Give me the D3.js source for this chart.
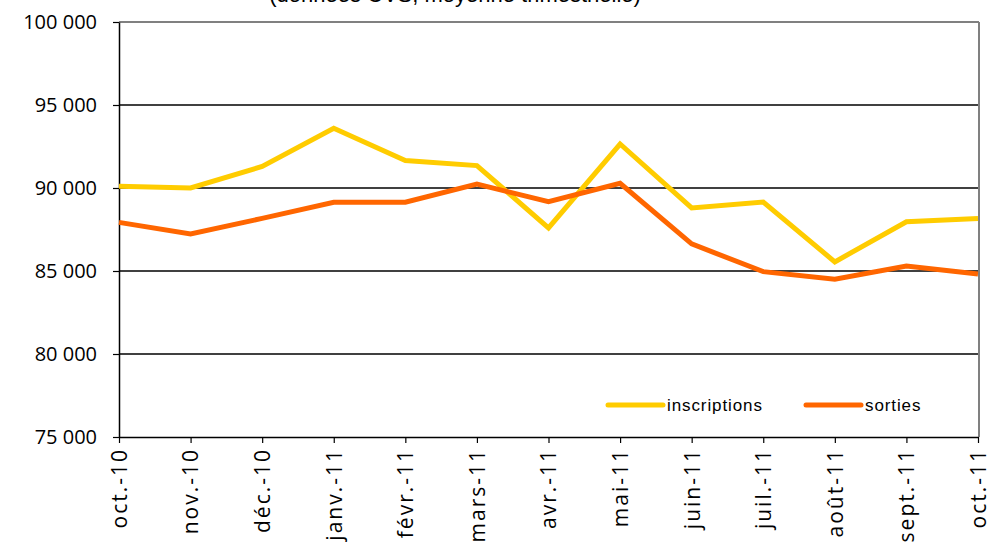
<!DOCTYPE html>
<html><head><meta charset="utf-8">
<script src="https://cdn.jsdelivr.net/npm/d3@7"></script>
<style>body{margin:0;background:#fff}svg{display:block}</style>
</head><body>
<svg id="c" width="994" height="544"></svg>
<script>
const months = ["oct.-10","nov.-10","déc.-10","janv.-11","févr.-11","mars-11","avr.-11","mai-11","juin-11","juil.-11","août-11","sept.-11","oct.-11"];
const inscriptions = [90100,90000,91300,93600,91650,91350,87600,92650,88800,89150,85550,87970,88170];
const sorties = [87930,87230,88170,89140,89140,90240,89170,90280,86630,84960,84500,85300,84820];
const yTicks = [75000,80000,85000,90000,95000,100000];
const seriesNames = ["inscriptions","sorties"];
const colors = ["#FFCC00","#FF6600"];
const title = "(données CVS, moyenne trimestrielle)";

const svg = d3.select("#c");
const L = 119, R = 978, T = 22, B = 437;
const x = d3.scalePoint().domain(months).range([L, R]);
const y = d3.scaleLinear().domain([75000,100000]).range([B, T]);
const fmt = v => d3.format(",")(v).replace(/,/g, " ");

svg.append("text").attr("x", 455).attr("y", 1.5).attr("text-anchor","middle")
  .attr("font-family","Liberation Sans, Arial, sans-serif").attr("font-size",22).attr("fill","#000").text(title);

// gridlines
svg.append("g").selectAll("line").data(yTicks.filter(v => v > 75000 && v < 100000)).join("line")
  .attr("x1", L).attr("x2", R).attr("y1", d => y(d)).attr("y2", d => y(d))
  .attr("stroke","#000").attr("stroke-width",1.5);

// plot border top/right gray
svg.append("line").attr("x1",L).attr("x2",R+1).attr("y1",y(100000)).attr("y2",y(100000)).attr("stroke","#808080").attr("stroke-width",2);
svg.append("line").attr("x1",R+1).attr("x2",R+1).attr("y1",T).attr("y2",B).attr("stroke","#808080").attr("stroke-width",2);

// y axis
const ya = svg.append("g").attr("transform",`translate(${L},0)`)
  .call(d3.axisLeft(y).tickValues(yTicks).tickSize(6).tickSizeOuter(0).tickPadding(16).tickFormat(fmt));
ya.select(".domain").attr("stroke","#000").attr("stroke-width",1.5);
ya.selectAll(".tick line").attr("stroke","#000").attr("stroke-width",1.2);
ya.selectAll("text").attr("font-family","Open Sans, sans-serif").attr("font-size",20).attr("fill","#000");

// x axis
const xa = svg.append("g").attr("transform",`translate(0,${B})`)
  .call(d3.axisBottom(x).tickSize(6).tickSizeOuter(0));
xa.select(".domain").attr("stroke","#000").attr("stroke-width",1.5);
xa.selectAll(".tick line").attr("stroke","#000").attr("stroke-width",1.2);
xa.selectAll("text").attr("font-family","Open Sans, sans-serif").attr("font-size",21).attr("letter-spacing",2).attr("fill","#000")
  .attr("transform","rotate(-90)").attr("text-anchor","end").attr("x",-11).attr("y",0).attr("dy","0.35em");

// lines
const line = d3.line().x((d,i) => x(months[i])).y(d => y(d));
[inscriptions, sorties].forEach((s, k) => {
  svg.append("path").datum(s).attr("d", line).attr("fill","none")
    .attr("stroke", colors[k]).attr("stroke-width",5).attr("stroke-linejoin","miter");
});

// legend
const lg = [{x:608, t:seriesNames[0], c:colors[0]},{x:806, t:seriesNames[1], c:colors[1]}];
lg.forEach(d => {
  svg.append("line").attr("x1",d.x).attr("x2",d.x+55).attr("y1",405).attr("y2",405)
    .attr("stroke",d.c).attr("stroke-width",5).attr("stroke-linecap","round");
  svg.append("text").attr("x",d.x+59).attr("y",411).attr("font-family","Liberation Sans, Arial, sans-serif")
    .attr("font-size",17).attr("letter-spacing",0.9).attr("fill","#000").text(d.t);
});
</script>
</body></html>
